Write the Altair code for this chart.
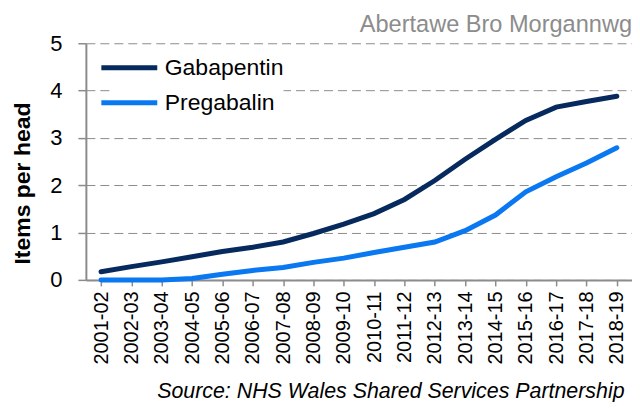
import altair as alt
import pandas as pd

years = ["2001-02", "2002-03", "2003-04", "2004-05", "2005-06", "2006-07",
         "2007-08", "2008-09", "2009-10", "2010-11", "2011-12", "2012-13",
         "2013-14", "2014-15", "2015-16", "2016-17", "2017-18", "2018-19"]
gabapentin = [0.17, 0.28, 0.38, 0.49, 0.60, 0.69, 0.80, 0.98, 1.18, 1.40, 1.70, 2.10,
              2.55, 2.97, 3.37, 3.65, 3.77, 3.88]
pregabalin = [0.0, 0.0, 0.0, 0.03, 0.12, 0.20, 0.26, 0.37, 0.46, 0.58, 0.69, 0.80,
              1.04, 1.37, 1.86, 2.18, 2.47, 2.79]
series = ["Gabapentin", "Pregabalin"]
colors = ["#062a5e", "#0a78f0"]

rows = []
for y, g, p in zip(years, gabapentin, pregabalin):
    rows.append({"year": y, "drug": series[0], "value": g})
    rows.append({"year": y, "drug": series[1], "value": p})
df = pd.DataFrame(rows)

FONT = "Liberation Sans"

chart = alt.Chart(df).mark_line(strokeWidth=5, strokeCap="round").encode(
    x=alt.X("year:N", sort=years,
            scale=alt.Scale(paddingInner=0, paddingOuter=0),
            axis=alt.Axis(title="Source: NHS Wales Shared Services Partnership",
                          titleFont=FONT, titleFontSize=21.4, titleFontStyle="italic",
                          titleFontWeight="normal", titleColor="#000000",
                          titleAnchor="end", titleAlign="right", titleBaseline="alphabetic",
                          titleY=118, titleX=539,
                          labelAngle=-90, labelFont=FONT, labelFontSize=20,
                          labelColor="#000000", labelPadding=5,
                          bandPosition=0,
                          tickColor="#8c8c8c", tickSize=6, tickWidth=1.5,
                          domainColor="#8c8c8c", domainWidth=2, grid=False)),
    y=alt.Y("value:Q", scale=alt.Scale(domain=[0, 5], nice=False),
            axis=alt.Axis(title="Items per head", titleFont=FONT, titleFontSize=23,
                          titleFontWeight="bold", titleColor="#000000",
                          titleY=140, titleX=-63, titleBaseline="middle",
                          values=[0, 1, 2, 3, 4, 5], labelFont=FONT, labelFontSize=22,
                          labelColor="#000000", labelPadding=16,
                          tickColor="#8c8c8c", tickSize=8, tickWidth=1.5,
                          domainColor="#8c8c8c", domainWidth=2,
                          grid=True, gridColor="#8c8c8c", gridDash=[9, 5], gridWidth=1)),
    color=alt.Color("drug:N", scale=alt.Scale(domain=series, range=colors),
                    legend=alt.Legend(title=None, orient="none", legendX=27, legendY=8,
                                      labelFont=FONT, labelFontSize=23, labelColor="#000000",
                                      symbolType="M-2,0H2", symbolStrokeWidth=5,
                                      symbolSize=784, rowPadding=6, labelOffset=19,
                                      fillColor="#ffffff", padding=0)),
).properties(
    width=547, height=237,
    autosize=alt.AutoSizeParams(type="none"),
    padding={"left": 78, "top": 35, "right": 0, "bottom": 122},
    title=alt.TitleParams("Abertawe Bro Morgannwg", anchor="end", font=FONT,
                          fontSize=23.6, fontWeight="normal", color="#8c8c8c", offset=-4),
).configure_view(stroke=None)

chart.save("out.html", embed_options={"renderer": "svg", "actions": False})
